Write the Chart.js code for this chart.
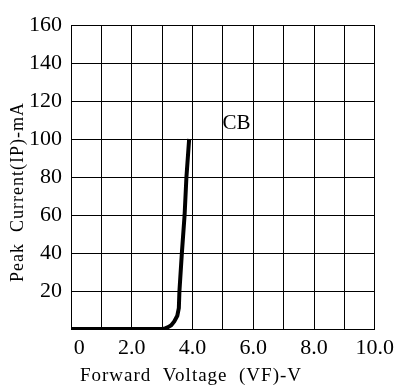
<!DOCTYPE html>
<html>
<head>
<meta charset="utf-8">
<script src="https://cdn.jsdelivr.net/npm/chart.js@4"></script>
<style>
  body{margin:0;background:#fff;}
  canvas{display:block;}
</style>
</head>
<body>
<canvas id="vf-chart" width="400" height="385"></canvas>
<script>
// forward voltage (V) vs peak current (mA)
const voltage=[0,3.0,3.1,3.2,3.3,3.4,3.5,3.55,3.57,3.65,3.74,3.8,3.89]
const current=[0,0,0.3,1,2,4,7,11,20,40,60,80,100]

const xTickLabels=["0","2.0","4.0","6.0","8.0","10.0"]
const curveName="CB"
const xTitle="Forward  Voltage  (VF)-V"
const yTitle="Peak  Current(IP)-mA"

const points=voltage.map((v,i)=>({x:v,y:current[i]}))

// axis titles + curve name, drawn with the wide letter spacing of the original
const textPlugin={
    id:"textPlugin",
    afterDraw(chart){
        const ctx=chart.ctx
        const xs=chart.scales.x, ys=chart.scales.y
        ctx.save()
        ctx.fillStyle="#000"
        ctx.letterSpacing="1px"
        ctx.font="19px 'Liberation Serif'"
        ctx.textAlign="center"
        ctx.textBaseline="middle"
        ctx.fillText(xTitle,191,376)
        ctx.font="18px 'Liberation Serif'"
        ctx.translate(18,192)
        ctx.rotate(-Math.PI/2)
        ctx.fillText(yTitle,0,0)
        ctx.restore()

        ctx.save()
        ctx.fillStyle="#000"
        ctx.font="21px 'Liberation Serif'"
        ctx.textAlign="center"
        ctx.textBaseline="middle"
        ctx.fillText(curveName,xs.getPixelForValue(5.45),ys.getPixelForValue(108))
        ctx.restore()
    }
}

const config={
    type:"line",
    data:{
        datasets:[{
            label:curveName,
            data:points,
            borderColor:"#000",
            borderWidth:4,
            pointRadius:0,
            tension:0,
            fill:false
        }]
    },
    options:{
        responsive:false,
        animation:false,
        devicePixelRatio:1,
        layout:{padding:{top:25,right:25,left:0,bottom:0}},
        plugins:{legend:{display:false},tooltip:{enabled:false}},
        scales:{
            x:{
                type:"linear",
                min:0,
                max:10,
                afterFit(scale){scale.height=56},
                border:{color:"#000",width:1},
                grid:{color:"#000",lineWidth:1,drawTicks:false},
                ticks:{
                    stepSize:1,
                    autoSkip:false,
                    maxRotation:0,
                    padding:6,
                    color:"#000",
                    font:{family:"'Liberation Serif'",size:22},
                    callback:(v)=>{
                        if(v%2!==0) return ""
                        const lab=xTickLabels[v/2]
                        return v===0 ? "   "+lab : lab
                    }
                }
            },
            y:{
                min:0,
                max:160,
                afterFit(scale){scale.width=71},
                border:{color:"#000",width:1},
                grid:{color:"#000",lineWidth:1,drawTicks:false},
                ticks:{
                    stepSize:20,
                    padding:9,
                    color:"#000",
                    font:{family:"'Liberation Serif'",size:22},
                    callback:(v)=>v===0 ? "" : v
                }
            }
        }
    },
    plugins:[textPlugin]
}

new Chart(document.querySelector("#vf-chart"),config)
</script>
</body>
</html>
